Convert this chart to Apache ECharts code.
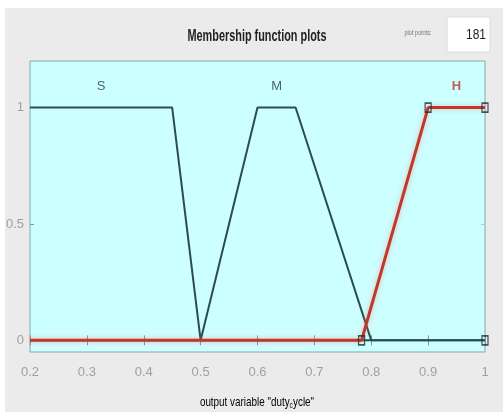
<!DOCTYPE html>
<html lang="en">
<head>
    <meta charset="UTF-8">
    <title>Membership function plots</title>
    <script src="https://cdn.jsdelivr.net/npm/echarts@6/dist/echarts.min.js"></script>
    <style>
        html, body { margin: 0; padding: 0; background: #fff; }
        #main { width: 503px; height: 414px; }
    </style>
</head>
<body>
    <div id="main"></div>
    <script type="text/javascript">
        // membership functions of output "duty_cycle"
        var mfNames = ['S', 'M', 'H'];
        var sX = [0.2, 0.45, 0.5, 1];
        var sY = [1, 1, 0, 0];
        var mX = [0.2, 0.5, 0.6, 0.667, 0.8, 1];
        var mY = [0, 0, 1, 1, 0, 0];
        var hX = [0.2, 0.783, 0.9, 1];
        var hY = [0, 0, 1, 1];
        // square handles on the selected MF (H)
        var handleX = [0.783, 0.9, 1, 1];
        var handleY = [0, 1, 1, 0];
        var yTicks = [0, 0.5, 1];
        var labelX = [(0.2 + 0.45) / 2, (0.6 + 0.667) / 2, (0.9 + 1) / 2];
        var labelY = 1.09;

        function pairs(xs, ys) {
            return xs.map(function (x, i) { return [x, ys[i]]; });
        }

        var font = '"Liberation Sans Narrow", "Liberation Sans", Arial, sans-serif';
        var dark = '#2c4d4f';
        var red = '#c0372c';

        var myChart = echarts.init(document.getElementById('main'));
        var option = {
            animation: false,
            backgroundColor: '#fff',
            graphic: [
                { type: 'rect', z: -10, shape: { x: 5, y: 8, width: 498, height: 404 }, style: { fill: '#ebebeb' } },
                { type: 'rect', z: -9, shape: { x: 447, y: 17, width: 43, height: 35 }, style: { fill: '#fff', stroke: '#dcdcdc' } },
                { type: 'text', x: 486, y: 35, scaleX: 0.8, style: { text: '181', fontSize: 15, fontFamily: font, fill: '#222', align: 'right', verticalAlign: 'middle' } },
                { type: 'text', x: 418, y: 33, scaleX: 0.8, style: { text: 'plot points:', fontSize: 7, fontFamily: font, fill: '#777', align: 'center', verticalAlign: 'middle' } },
                { type: 'text', x: 257, y: 37, scaleX: 0.68, style: { text: 'Membership function plots', fontSize: 16, fontWeight: 'bold', fontFamily: font, fill: '#222', align: 'center', verticalAlign: 'middle' } },
                {
                    type: 'text', x: 257, y: 402, scaleX: 0.76,
                    style: {
                        text: '{a|output variable "duty}{s|c}{a|ycle"}',
                        align: 'center', verticalAlign: 'middle',
                        rich: {
                            a: { fontSize: 13, fontFamily: font, color: '#222' },
                            s: { fontSize: 9, fontFamily: font, color: '#222', padding: [8, 0, 0, 0] }
                        }
                    }
                }
            ],
            grid: {
                left: 30, right: 18, top: 61, bottom: 62,
                show: true,
                backgroundColor: '#ccffff',
                borderColor: '#8aa6a8',
                borderWidth: 1
            },
            xAxis: [{
                type: 'value',
                min: 0.2, max: 1, interval: 0.1,
                axisLine: { show: false },
                splitLine: { show: false },
                axisTick: { show: true, inside: true, length: 5, lineStyle: { color: '#7d9899' } },
                axisLabel: {
                    color: '#a0a0a0', fontSize: 13, fontFamily: font, margin: 14,
                    formatter: function (v) { return String(+v.toFixed(1)); }
                }
            }, {
                type: 'value', position: 'top',
                min: 0.2, max: 1, interval: 0.1,
                axisLine: { show: false },
                splitLine: { show: false },
                axisTick: { show: true, inside: true, length: 5, lineStyle: { color: '#7d9899' } },
                axisLabel: { show: false }
            }],
            yAxis: [{
                type: 'value',
                min: -0.05, max: 1.2,
                axisLine: { show: false },
                splitLine: { show: false },
                axisTick: { show: true, inside: true, length: 4, customValues: yTicks, lineStyle: { color: '#7d9899' } },
                axisLabel: {
                    customValues: yTicks,
                    color: '#a0a0a0', fontSize: 13, fontFamily: font, margin: 6
                }
            }, {
                type: 'value', position: 'right',
                min: -0.05, max: 1.2,
                axisLine: { show: false },
                splitLine: { show: false },
                axisTick: { show: true, inside: true, length: 4, customValues: yTicks, lineStyle: { color: '#b9c9c9' } },
                axisLabel: { show: false }
            }],
            series: [{
                name: mfNames[0], type: 'line', symbol: 'none',
                lineStyle: { color: dark, width: 2 },
                data: pairs(sX, sY)
            }, {
                name: mfNames[1], type: 'line', symbol: 'none',
                lineStyle: { color: dark, width: 2 },
                data: pairs(mX, mY)
            }, {
                name: mfNames[2], type: 'line', symbol: 'none', z: 3,
                lineStyle: { color: red, width: 3, shadowColor: 'rgba(255,110,90,0.5)', shadowBlur: 5 },
                data: pairs(hX, hY)
            }, {
                type: 'scatter', symbol: 'rect', symbolSize: [6, 9], z: 4,
                itemStyle: { color: 'rgba(0,0,0,0)', borderColor: '#1c2f3a', borderWidth: 1.5 },
                data: pairs(handleX, handleY)
            }, {
                type: 'scatter', symbolSize: 0, z: 5,
                label: {
                    show: true, position: 'inside', fontSize: 13, fontFamily: font,
                    formatter: function (p) { return mfNames[p.dataIndex]; },
                    color: '#2b3b3b'
                },
                data: labelX.map(function (x, i) {
                    var d = { value: [x, labelY] };
                    if (i === 2) d.label = { color: red, fontWeight: 'bold' };
                    return d;
                })
            }]
        };
        myChart.setOption(option);
        window.onresize = myChart.resize;
    </script>
</body>
</html>
